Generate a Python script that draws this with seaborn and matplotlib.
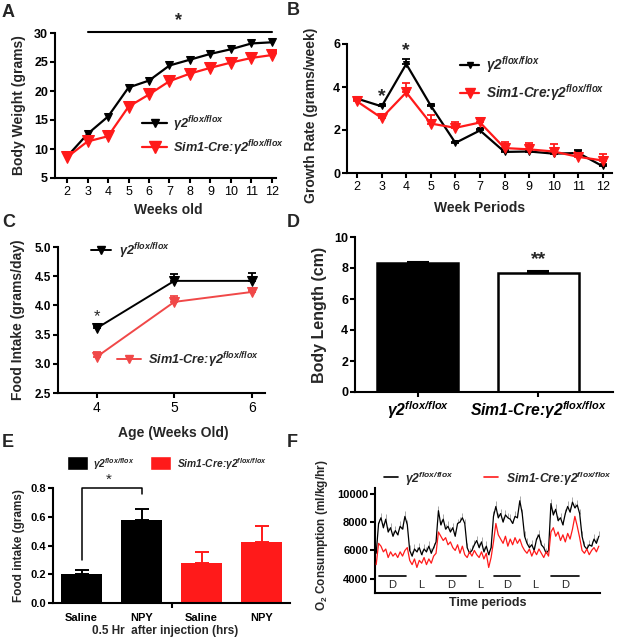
import numpy as np
import pandas as pd
import matplotlib
matplotlib.use('Agg')
import matplotlib.pyplot as plt
import seaborn as sns
from matplotlib.patches import Patch
from matplotlib.lines import Line2D

# A - body weight
weeks = [2, 3, 4, 5, 6, 7, 8, 9, 10, 11, 12]
bw_flox = [8.7, 12.6, 15.6, 20.6, 21.8, 24.4, 25.4, 26.4, 27.2, 28.2, 28.4]
bw_sim1 = [8.6, 11.3, 12.2, 17.3, 19.4, 21.7, 23.0, 24.0, 24.9, 25.7, 26.2]

# B - growth rate
gr_flox = [3.46, 3.10, 5.07, 3.13, 1.40, 1.98, 0.98, 1.00, 0.90, 0.93, 0.31]
gr_flox_err = [0.05, 0.05, 0.25, 0.05, 0.05, 0.05, 0.05, 0.05, 0.05, 0.15, 0.05]
gr_sim1 = [3.33, 2.56, 3.75, 2.30, 2.10, 2.35, 1.16, 1.10, 1.00, 0.75, 0.58]
gr_sim1_err = [0.05, 0.05, 0.45, 0.40, 0.25, 0.15, 0.30, 0.30, 0.35, 0.25, 0.30]

# C - food intake
age = [4, 5, 6]
fi_flox = [3.61, 4.42, 4.42]
fi_flox_err = [0.03, 0.12, 0.13]
fi_sim1 = [3.12, 4.06, 4.23]
fi_sim1_err = [0.08, 0.10, 0.04]

# D - body length
bl_groups = ['flox', 'sim1']
bl_vals = [8.3, 7.7]
bl_err = [0.08, 0.08]

# E - NPY food intake
npy_keys = ['flox_saline', 'flox_npy', 'sim1_saline', 'sim1_npy']
npy_ticks = ['Saline', 'NPY', 'Saline', 'NPY']
npy_vals = [0.20, 0.578, 0.28, 0.422]
npy_err = [0.03, 0.075, 0.072, 0.117]

# F - O2 consumption (hourly)
o2_flox = [5800, 7900, 8300, 7600, 8200, 7300, 7600, 7000, 7400, 7100,
           7700, 7500, 8400, 7800, 6000, 5600, 6100, 5900, 6200, 5700,
           6100, 5900, 6300, 5800, 6200, 6600, 8800, 7800, 8200, 7500,
           7700, 7300, 7600, 7000, 7900, 8000, 8300, 7900, 6200, 5800,
           6000, 6400, 6700, 6200, 6600, 5900, 6300, 5700, 6200, 8400,
           9100, 8300, 8600, 8000, 8500, 8300, 8200, 7900, 8400, 8300,
           9500, 8600, 7000, 6500, 6200, 6400, 6000, 6800, 7100, 6400,
           6200, 5800, 6000, 9300, 8500, 8900, 8100, 8300, 7800, 8600,
           9100, 8700, 9400, 9000, 9200, 8600, 7000, 6300, 6100, 6400,
           6300, 6800, 6500, 7000]
o2_sim1 = [5000, 6500, 6300, 5900, 6100, 5500, 5900, 5600, 5800, 5500,
           5900, 5600, 6000, 6200, 5300, 5000, 5400, 4800, 5300, 5100,
           5500, 5000, 5400, 5100, 5600, 5800, 7300, 7000, 6700, 6900,
           6400, 6600, 6200, 6000, 6400, 5800, 6300, 5700, 5500, 5900,
           5600, 6000, 5700, 5500, 5900, 5400, 5800, 4800, 5500, 6600,
           7900, 7100, 6800, 6500, 7000, 6300, 6800, 6400, 6900, 6500,
           6800, 6300, 6000, 5800, 6100, 5600, 6000, 5700, 6100, 5800,
           5500, 5900, 5600, 7300, 7600, 7000, 7300, 6700, 7100, 6600,
           7200, 6800, 7500, 8400, 7700, 6900, 6000, 5800, 6100, 5700,
           6000, 6200, 5900, 6300]
o2_sem = 350
dark_periods = [(1.1, 12.6), (25.1, 37.4), (49.4, 60.1), (72.9, 84.9)]

FLOX = 'γ2$^{flox/flox}$'
SIM1 = 'Sim1-Cre:γ2$^{flox/flox}$'
RED = '#ff1a1a'

sns.set_theme(style='ticks')
plt.rcParams['font.family'] = ['Liberation Sans', 'DejaVu Sans']
plt.rcParams['font.weight'] = 'bold'
plt.rcParams['axes.labelweight'] = 'bold'
plt.rcParams['mathtext.fontset'] = 'custom'
plt.rcParams['mathtext.it'] = 'Liberation Sans:italic:bold'
plt.rcParams['mathtext.rm'] = 'Liberation Sans:italic:bold'
plt.rcParams['mathtext.bf'] = 'Liberation Sans:bold'
plt.rcParams['axes.linewidth'] = 1.5
plt.rcParams['xtick.major.width'] = 1.5
plt.rcParams['ytick.major.width'] = 1.5
plt.rcParams['xtick.major.size'] = 3.5
plt.rcParams['ytick.major.size'] = 3.5
plt.rcParams['xtick.major.pad'] = 2
plt.rcParams['ytick.major.pad'] = 1.5
plt.rcParams['xtick.color'] = 'black'
plt.rcParams['ytick.color'] = 'black'
plt.rcParams['axes.edgecolor'] = 'black'

W, H = 619, 639
fig = plt.figure(figsize=(W / 100, H / 100), dpi=100)


def px_axes(l, t, r, b):
    ax = fig.add_axes([l / W, 1 - b / H, (r - l) / W, (b - t) / H])
    sns.despine(ax=ax)
    return ax


def up_err(ax, x, y, e, c, lw=1.3, cs=3):
    ax.errorbar(x, y, yerr=[np.zeros(len(e)), e], fmt='none', ecolor=c,
                elinewidth=lw, capsize=cs, capthick=lw, zorder=1)


def leg_text(leg, size):
    for t in leg.get_texts():
        t.set_fontstyle('italic')
        t.set_fontsize(size)


# ---------------- A
ax = px_axes(55, 33, 276, 178)
sns.lineplot(x=weeks, y=bw_flox, ax=ax, color='black', marker='v', markersize=6,
             markeredgecolor='black', linewidth=1.6)
sns.lineplot(x=weeks, y=bw_sim1, ax=ax, color=RED, marker='v', markersize=8,
             markeredgecolor=RED, linewidth=1.6)
ax.set_xlim(1.41, 12.2)
ax.set_ylim(5, 30)
ax.set_xticks(weeks)
ax.set_yticks([5, 10, 15, 20, 25, 30])
ax.tick_params(axis='x', labelsize=9)
ax.tick_params(axis='y', labelsize=9)
for lb in ax.get_xticklabels():
    lb.set_fontweight('normal')
ax.set_xlabel('Weeks old', fontsize=10)
ax.set_ylabel('Body Weight (grams)', fontsize=10)
ax.xaxis.set_label_coords(0.511, -0.17)
ax.yaxis.set_label_coords(-0.13, 0.5)
ax.plot([3, 12], [30.25, 30.25], color='black', lw=1.5, clip_on=False)
ax.text(7.45, 30.6, '*', ha='center', va='bottom', fontsize=13)
h = [Line2D([], [], color='black', marker='v', markersize=6, lw=1.6),
     Line2D([], [], color=RED, marker='v', markersize=8, lw=1.6)]
leg = ax.legend(h, [FLOX, SIM1], loc='center left', bbox_to_anchor=(0.395, 0.29),
                frameon=False, borderpad=0, borderaxespad=0, handlelength=1.6,
                handletextpad=0.4, labelspacing=0.3)
leg_text(leg, 9.2)
fig.text(2 / W, 1 - 17 / H, 'A', fontsize=13, fontweight='bold')

# ---------------- B
ax = px_axes(347, 44, 612, 173)
up_err(ax, weeks, gr_flox, gr_flox_err, 'black')
up_err(ax, weeks, gr_sim1, gr_sim1_err, RED)
sns.lineplot(x=weeks, y=gr_flox, ax=ax, color='black', marker='v', markersize=5,
             markeredgecolor='black', linewidth=1.6)
sns.lineplot(x=weeks, y=gr_sim1, ax=ax, color=RED, marker='v', markersize=7,
             markeredgecolor=RED, linewidth=1.6)
ax.set_xlim(1.59, 12.37)
ax.set_ylim(0, 6)
ax.set_xticks(weeks)
ax.set_yticks([0, 2, 4, 6])
ax.tick_params(axis='both', labelsize=9)
for lb in ax.get_xticklabels():
    lb.set_fontweight('normal')
ax.set_xlabel('Week Periods', fontsize=10)
ax.set_ylabel('Growth Rate (grams/week)', fontsize=10)
ax.xaxis.set_label_coords(0.5, -0.215)
ax.yaxis.set_label_coords(-0.11, 0.45)
ax.text(3, 3.15, '*', ha='center', va='bottom', fontsize=14)
ax.text(4, 5.3, '*', ha='center', va='bottom', fontsize=14)
h = [Line2D([], [], color='black', marker='v', markersize=5, lw=1.6),
     Line2D([], [], color=RED, marker='v', markersize=7, lw=1.6)]
leg = ax.legend(h, [FLOX, SIM1], loc='center left', bbox_to_anchor=(0.425, 0.73),
                frameon=False, borderpad=0, borderaxespad=0, handlelength=1.3,
                handletextpad=0.4, labelspacing=0.45)
leg_text(leg, 9.8)
fig.text(287 / W, 1 - 15 / H, 'B', fontsize=13, fontweight='bold')

# ---------------- C
ax = px_axes(58, 247, 265, 393)
up_err(ax, age, fi_flox, fi_flox_err, 'black')
up_err(ax, age, fi_sim1, fi_sim1_err, '#f04848')
sns.lineplot(x=age, y=fi_flox, ax=ax, color='black', marker='v', markersize=7,
             markeredgecolor='black', linewidth=1.4)
sns.lineplot(x=age, y=fi_sim1, ax=ax, color='#f04848', marker='v', markersize=7,
             markeredgecolor='#f04848', linewidth=1.4)
ax.set_xlim(3.5, 6.17)
ax.set_ylim(2.5, 5.0)
ax.set_xticks(age)
ax.set_yticks([2.5, 3.0, 3.5, 4.0, 4.5, 5.0])
ax.set_yticklabels(['2.5', '3.0', '3.5', '4.0', '4.5', '5.0'])
ax.tick_params(axis='y', labelsize=8.5)
ax.tick_params(axis='x', labelsize=10)
for lb in ax.get_xticklabels():
    lb.set_fontweight('normal')
ax.set_xlabel('Age (Weeks Old)', fontsize=10)
ax.set_ylabel('Food Intake (grams/day)', fontsize=10)
ax.xaxis.set_label_coords(0.556, -0.225)
ax.yaxis.set_label_coords(-0.16, 0.5)
ax.text(4, 3.68, '*', ha='center', va='bottom', fontsize=12, fontweight='normal')
leg1 = ax.legend([Line2D([], [], color='black', marker='v', markersize=6, lw=1.4)], [FLOX],
                 loc='center left', bbox_to_anchor=(0.16, 0.97), frameon=False,
                 borderpad=0, borderaxespad=0, handlelength=1.3, handletextpad=0.5)
leg_text(leg1, 9.2)
ax.add_artist(leg1)
leg2 = ax.legend([Line2D([], [], color='#f04848', marker='v', markersize=6, lw=1.4)], [SIM1],
                 loc='center left', bbox_to_anchor=(0.285, 0.225), frameon=False,
                 borderpad=0, borderaxespad=0, handlelength=1.6, handletextpad=0.4)
leg_text(leg2, 9.2)
fig.text(2 / W, 1 - 227 / H, 'C', fontsize=13, fontweight='bold')

# ---------------- D
ax = px_axes(355, 237, 613, 392)
dfd = pd.DataFrame({'group': bl_groups, 'length': bl_vals})
sns.barplot(data=dfd, x='group', y='length', hue='group', palette=['black', 'white'],
            edgecolor='black', linewidth=1.8, width=0.676, saturation=1,
            legend=False, ax=ax, errorbar=None)
up_err(ax, [0, 1], bl_vals, bl_err, 'black', lw=1.5, cs=8)
ax.set_xlim(-0.52, 1.62)
ax.set_ylim(0, 10)
ax.set_yticks([0, 2, 4, 6, 8, 10])
ax.set_xticks([0, 1])
ax.set_xticklabels([FLOX, SIM1], fontsize=11.3, fontstyle='italic')
ax.tick_params(axis='y', labelsize=9)
ax.set_xlabel('')
ax.set_ylabel('Body Length (cm)', fontsize=11.5)
ax.yaxis.set_label_coords(-0.11, 0.5)
ax.text(1, 8.0, '**', ha='center', va='bottom', fontsize=14)
fig.text(287 / W, 1 - 227 / H, 'D', fontsize=13, fontweight='bold')

# ---------------- E
ax = px_axes(53, 488, 290, 603)
e_colors = ['black', 'black', RED, RED]
dfe = pd.DataFrame({'key': npy_keys, 'intake': npy_vals})
sns.barplot(data=dfe, x='key', y='intake', hue='key', palette=e_colors,
            width=0.68, linewidth=0, saturation=1, legend=False, ax=ax, errorbar=None)
for i, c in enumerate(e_colors):
    ax.errorbar([i], [npy_vals[i]], yerr=[[0], [npy_err[i]]], fmt='none', ecolor=c,
                elinewidth=1.4, capsize=5, capthick=1.4, zorder=3)
ax.set_xlim(-0.475, 3.475)
ax.set_ylim(0, 0.8)
ax.set_yticks([0, 0.2, 0.4, 0.6, 0.8])
ax.set_yticklabels(['0.0', '0.2', '0.4', '0.6', '0.8'])
ax.set_xticks([1.5])
ax.set_xticklabels([''])
ax.set_xticks(range(4), npy_ticks, minor=True)
ax.tick_params(axis='x', which='minor', length=0, labelsize=8, pad=7)
ax.tick_params(axis='y', labelsize=8)
ax.set_xlabel('0.5 Hr  after injection (hrs)', fontsize=8.5)
ax.set_ylabel('Food intake (grams)', fontsize=8.5)
ax.xaxis.set_label_coords(0.473, -0.19)
ax.yaxis.set_label_coords(-0.12, 0.5)
ax.plot([0, 0, 1, 1], [0.3, 0.8, 0.8, 0.76], color='black', lw=1.1, clip_on=False)
ax.text(0.45, 0.81, '*', ha='center', va='bottom', fontsize=11, fontweight='normal')
h = [Patch(facecolor='black'), Patch(facecolor=RED)]
leg = ax.legend(h, [FLOX, SIM1], ncol=2, loc='center left', bbox_to_anchor=(0.058, 1.21),
                frameon=False, borderpad=0, borderaxespad=0, handlelength=1.4,
                handleheight=1.1, handletextpad=0.35, columnspacing=1.0)
leg_text(leg, 7.4)
fig.text(2 / W, 1 - 447 / H, 'E', fontsize=13, fontweight='bold')

# ---------------- F
ax = px_axes(375, 488, 600, 593)
hours = np.arange(len(o2_flox))
ax.errorbar(hours, o2_flox, yerr=[np.zeros(len(hours)), np.full(len(hours), o2_sem)],
            fmt='none', ecolor='#9a9a9a', elinewidth=0.6, zorder=1)
sns.lineplot(x=hours, y=o2_flox, ax=ax, color='black', linewidth=0.9, zorder=2)
sns.lineplot(x=hours, y=o2_sim1, ax=ax, color=RED, linewidth=0.9, zorder=3)
ax.set_xlim(-0.5, 93.5)
ax.set_ylim(3000, 10400)
ax.set_yticks([4000, 6000, 8000, 10000])
ax.set_xticks([])
ax.tick_params(axis='y', labelsize=8)
for s, e in dark_periods:
    ax.plot([s, e], [4200, 4200], color='black', lw=1.2)
    ax.text((s + e) / 2, 3550, 'D', ha='center', va='center', fontsize=8, fontweight='normal')
for (s0, e0), (s1, e1) in zip(dark_periods[:-1], dark_periods[1:]):
    ax.text((e0 + s1) / 2, 3550, 'L', ha='center', va='center', fontsize=8, fontweight='normal')
ax.set_xlabel('Time periods', fontsize=9)
ax.set_ylabel('O$_{\\mathregular{2}}$ Consumption (ml/kg/hr)', fontsize=8.5)
ax.xaxis.set_label_coords(0.5, -0.04)
ax.yaxis.set_label_coords(-0.2, 0.55)
h = [Line2D([], [], color='black', lw=1.2), Line2D([], [], color=RED, lw=1.2)]
leg = ax.legend(h, [FLOX, SIM1], ncol=2, loc='center left', bbox_to_anchor=(0.04, 1.09),
                frameon=False, borderpad=0, borderaxespad=0, handlelength=0.9,
                handletextpad=0.5, columnspacing=2.0)
leg_text(leg, 8.7)
fig.text(287 / W, 1 - 447 / H, 'F', fontsize=13, fontweight='bold')

fig.savefig('out.png', dpi=100)
